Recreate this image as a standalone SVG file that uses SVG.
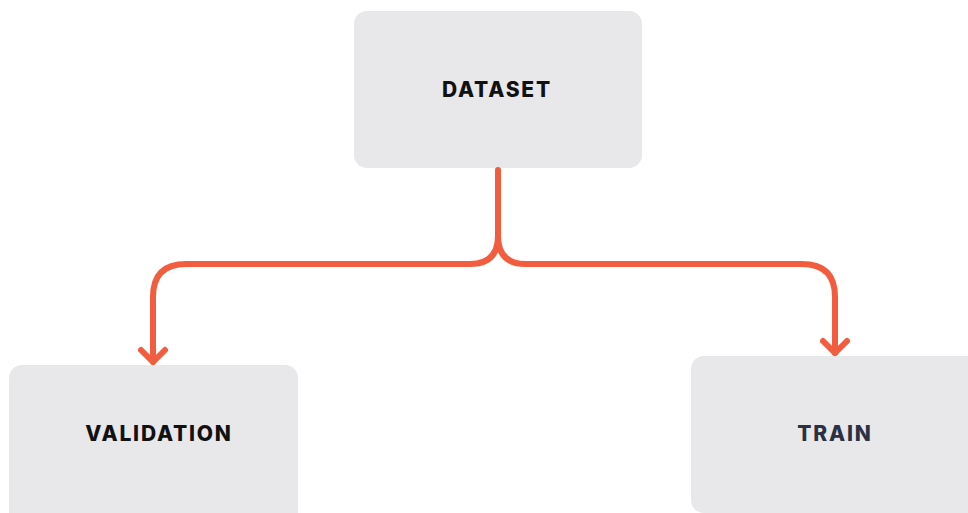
<svg xmlns="http://www.w3.org/2000/svg" width="968" height="513" viewBox="0 0 968 513">
  <defs>
    <style>
      .box { fill: #e8e8eb; }
      .label { font-family: Inter, "Open Sans", "Liberation Sans", sans-serif; font-weight: 800; font-size: 21px; letter-spacing: 1.8px; text-anchor: middle; fill: #111111; }
      .label.dark { fill: #2b3144; }
      .link { fill: none; stroke: #f25c3f; stroke-width: 6; stroke-linecap: round; stroke-linejoin: round; }
    </style>
  </defs>
  <rect width="968" height="513" fill="#ffffff"/>

  <g id="node-dataset">
    <rect class="box" x="354" y="11" width="288" height="157" rx="13"/>
    <text class="label" x="497" y="97">DATASET</text>
  </g>

  <g id="node-validation">
    <rect class="box" x="9" y="365" width="289" height="170" rx="13"/>
    <text class="label" x="159" y="441">VALIDATION</text>
  </g>

  <g id="node-train">
    <rect class="box" x="691" y="356" width="300" height="157" rx="13"/>
    <text class="label dark" x="835" y="441">TRAIN</text>
  </g>

  <g id="connectors">
    <path class="link" d="M498,170 V236 Q498,264 470,264 H186 Q153,264 153,297 V362"/>
    <path class="link" d="M498,236 Q498,264 526,264 H802 Q835,264 835,297 V353"/>
    <path class="link" d="M141,350 L153,362 L165,350"/>
    <path class="link" d="M823,341 L835,353 L847,341"/>
  </g>
</svg>
